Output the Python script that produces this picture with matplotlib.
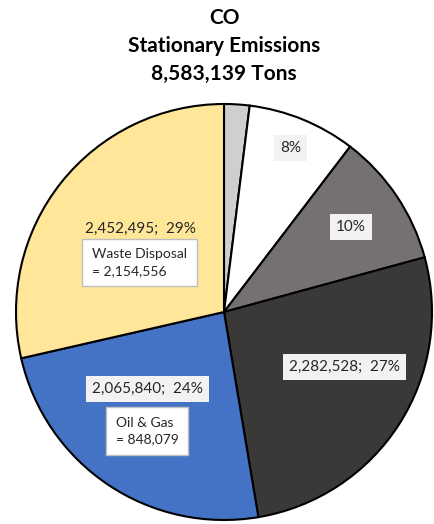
import matplotlib
matplotlib.use("Agg")
import matplotlib.pyplot as plt

plt.rcParams['font.family'] = ['Lato', 'DejaVu Sans']

# data
pollutant = "CO"
total_tons = 8583139
sources = ["Other", "Source B", "Source C", "Source D", "Oil & Gas sector", "Waste sector"]
tons = [169276, 721000, 892000, 2282528, 2065840, 2452495]
colors = ["#d0cecf", "#ffffff", "#767171", "#3b3838", "#4472c4", "#ffe699"]
show_value = [False, False, False, True, True, True]
notes = {"Waste sector": "Waste Disposal\n= 2,154,556", "Oil & Gas sector": "Oil & Gas\n= 848,079"}

# layout (data units, pie radius = 1)
label_xy = [None, (0.32, 0.79), (0.611, 0.409), (0.579, -0.264), (-0.368, -0.370), (-0.40, 0.40)]
note_xy = {"Waste sector": (-0.635, 0.238), "Oil & Gas sector": (-0.52, -0.572)}

fig = plt.figure(figsize=(4.35, 5.24), dpi=100)
cx, cy, rx, ry = 224 / 435, 1 - 312 / 524, 208 / 435, 208 / 524
ax = fig.add_axes([cx - rx, cy - ry, 2 * rx, 2 * ry])

ax.pie(tons, colors=colors, startangle=90, counterclock=False, radius=1,
       wedgeprops=dict(edgecolor="black", linewidth=1.5))
ax.set_xlim(-1, 1)
ax.set_ylim(-1, 1)
ax.set_aspect("equal")
ax.axis("off")

total = sum(tons)
for i, (name, t) in enumerate(zip(sources, tons)):
    if label_xy[i] is None:
        continue
    pct = round(100 * t / total)
    txt = f"{t:,};  {pct}%" if show_value[i] else f"{pct}%"
    box = None if name == "Waste sector" else dict(boxstyle="square,pad=0.4", fc="#f2f2f2", ec="none")
    ax.text(*label_xy[i], txt, ha="center", va="center", fontsize=11, color="#262626", bbox=box)
    if name in notes:
        ax.text(*note_xy[name], notes[name], ha="left", va="center", fontsize=10,
                color="#262626", linespacing=1.45,
                bbox=dict(boxstyle="square,pad=0.7", fc="white", ec="#bfbfbf", lw=1))

for k, line in enumerate([pollutant, "Stationary Emissions", f"{total_tons:,} Tons"]):
    fig.text(0.515, 1 - (18 + 28 * k) / 524, line, ha="center", va="center",
             fontsize=15, fontweight="bold")

fig.savefig("out.png", dpi=100)
